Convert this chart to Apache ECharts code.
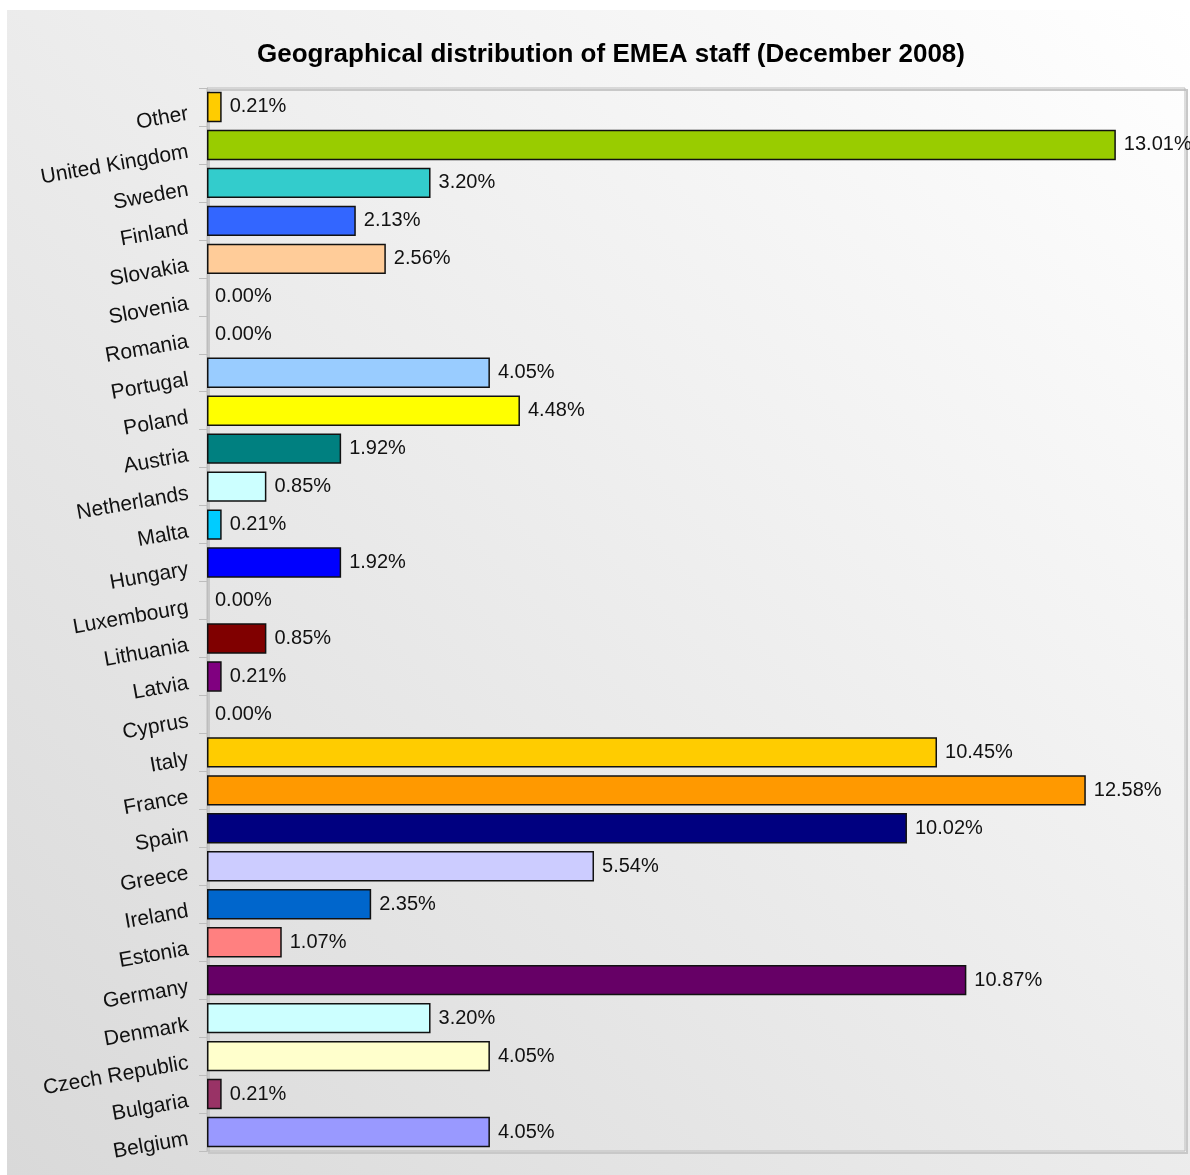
<!DOCTYPE html>
<html><head><meta charset="utf-8">
<script src="https://cdn.jsdelivr.net/npm/echarts@6/dist/echarts.min.js"></script>
<style>html,body{margin:0;padding:0;background:#fff;}#c{width:1190px;height:1175px;}</style>
</head><body><div id="c"></div>
<script>
const categories = ["Belgium","Bulgaria","Czech Republic","Denmark","Germany","Estonia","Ireland","Greece","Spain","France","Italy","Cyprus","Latvia","Lithuania","Luxembourg","Hungary","Malta","Netherlands","Austria","Poland","Portugal","Romania","Slovenia","Slovakia","Finland","Sweden","United Kingdom","Other"];
const values = [4.05,0.21,4.05,3.20,10.87,1.07,2.35,5.54,10.02,12.58,10.45,0.00,0.21,0.85,0.00,1.92,0.21,0.85,1.92,4.48,4.05,0.00,0.00,2.56,2.13,3.20,13.01,0.21];
const colors = ["#9999FF","#993366","#FFFFCC","#CCFFFF","#660066","#FF8080","#0066CC","#CCCCFF","#000080","#FF9900","#FFCC00","#CCCCCC","#800080","#800000","#CCCCCC","#0000FF","#00CCFF","#CCFFFF","#008080","#FFFF00","#99CCFF","#CCCCCC","#CCCCCC","#FFCC99","#3366FF","#33CCCC","#99CC00","#FFCC00"];

const chart = echarts.init(document.getElementById('c'), null, {renderer:'canvas'});
chart.setOption({
  animation:false,
  backgroundColor:'#fff',
  graphic:[{type:'rect',z:-10,shape:{x:7,y:10,width:1183,height:1165},
    style:{fill:new echarts.graphic.LinearGradient(1,0,0,1,[{offset:0,color:'#ffffff'},{offset:1,color:'#d9d9d9'}])}},
    {type:'rect',z:-9,shape:{x:209,y:90,width:978,height:1063},style:{fill:'rgba(0,0,0,0)',stroke:'#c8c8c8',lineWidth:2}}],
  title:{text:'Geographical distribution of EMEA staff (December 2008)',left:606,top:37,textAlign:'center',
    textStyle:{fontFamily:'Liberation Sans, Arial, sans-serif',fontWeight:'bold',fontSize:26,color:'#000'}},
  grid:{left:207,right:5,top:88,bottom:24,show:true,borderColor:'#bdbdbd',borderWidth:1,backgroundColor:'transparent'},
  xAxis:{type:'value',min:0,max:14,show:false},
  yAxis:{type:'category',data:categories,
    axisLine:{show:true,lineStyle:{color:'#bdbdbd',width:1}},
    axisTick:{show:true,length:8,lineStyle:{color:'#bdbdbd'}},
    axisLabel:{rotate:10,margin:20,fontSize:21,lineHeight:14,color:'#111',fontFamily:'Liberation Sans, Arial, sans-serif',interval:0,verticalAlign:'top'},
    splitLine:{show:false}},
  series:[{type:'bar',barCategoryGap:'20%',
    data:values.map((v,i)=>({value:v,itemStyle:{color:colors[i],borderColor:'#111',borderWidth:v>0?1.5:0}})),
    label:{show:true,position:'right',distance:8,fontSize:20,color:'#111',fontFamily:'Liberation Sans, Arial, sans-serif',
      formatter:p=>p.value.toFixed(2)+'%'}}]
});
</script></body></html>
